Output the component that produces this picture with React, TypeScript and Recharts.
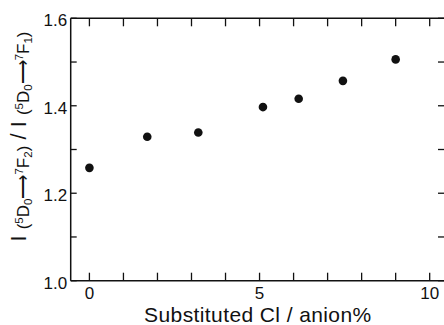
import { ScatterChart, Scatter, XAxis, YAxis } from 'recharts';

// Substituted Cl (anion %) vs. intensity ratio
const clPercent = [0, 1.7, 3.2, 5.1, 6.15, 7.45, 9.0];
const ratio = [1.258, 1.329, 1.339, 1.397, 1.416, 1.457, 1.506];

const xTicks = [0, 1, 2, 3, 4, 5, 6, 7, 8, 9, 10];
const xLabelled = [0, 5, 10];
const yTicks = [1.0, 1.1, 1.2, 1.3, 1.4, 1.5, 1.6];
const yLabelled = [1.0, 1.2, 1.4, 1.6];

const X_DOMAIN: [number, number] = [-0.55, 10.45];
const Y_DOMAIN: [number, number] = [1.0, 1.6];

const data = clPercent.map((x, i) => ({ x, y: ratio[i] }));

const FONT = '"Liberation Sans", Arial, Helvetica, sans-serif';
const INK = '#111';
const TICK = 8;

// layout
const W = 447;
const H = 325;
const TOP = 18.3;
const BOTTOM = 14;
const LEFT_W = 70.7;
const RIGHT_W = 2;
const XAXIS_H = 30.3;
const PLOT_W = W - LEFT_W - RIGHT_W;
const PLOT_H = H - TOP - BOTTOM - XAXIS_H;

// bottom tick + its twin on the top border
function BottomTick({ x, y, payload }: any) {
  const v = payload.value;
  const top = y - PLOT_H;
  return (
    <g>
      <line x1={x} y1={y} x2={x} y2={y - TICK} stroke={INK} strokeWidth={1.3} />
      <line x1={x} y1={top} x2={x} y2={top + TICK} stroke={INK} strokeWidth={1.3} />
      {xLabelled.includes(v) && (
        <text x={x} y={y + 18} textAnchor="middle" fontSize={17} fontFamily={FONT} fill={INK}>
          {v}
        </text>
      )}
    </g>
  );
}

function LeftTick({ x, y, payload }: any) {
  const v = payload.value;
  const show = yLabelled.some((t) => Math.abs(t - v) < 1e-6);
  const isTop = Math.abs(v - Y_DOMAIN[1]) < 1e-6;
  return (
    <g>
      {isTop && <line x1={x} y1={y} x2={x + PLOT_W} y2={y} stroke={INK} strokeWidth={1.5} />}
      <line x1={x} y1={y} x2={x + 6} y2={y} stroke={INK} strokeWidth={1.3} />
      {show && (
        <text x={x - 3.5} y={y + 8} textAnchor="end" fontSize={17} fontFamily={FONT} fill={INK}>
          {v.toFixed(1)}
        </text>
      )}
    </g>
  );
}

function RightTick({ x, y }: any) {
  return <line x1={x} y1={y} x2={x - 7} y2={y} stroke={INK} strokeWidth={1.3} />;
}

function XTitle({ viewBox }: any) {
  const cx = viewBox.x + viewBox.width / 2;
  return (
    <text
      x={cx}
      y={viewBox.y + 41}
      textAnchor="middle"
      fontSize={21}
      letterSpacing={0.4}
      fontFamily={FONT}
      fill={INK}
    >
      Substituted Cl / anion%
    </text>
  );
}

function YTitle({ viewBox }: any) {
  const cx = viewBox.x + 26;
  const cy = viewBox.y + viewBox.height / 2 - 13;
  const big = 22;
  const mid = 17;
  const sm = 11.5;
  const part = (n: string) => [
    <tspan key={n + 'a'} fontSize={mid} dy={3}>(</tspan>,
    <tspan key={n + 'b'} fontSize={sm} dy={-6}>5</tspan>,
    <tspan key={n + 'c'} fontSize={mid} dy={6}>D</tspan>,
    <tspan key={n + 'd'} fontSize={sm} dy={3}>0</tspan>,
    <tspan key={n + 'e'} fontSize={mid} dy={-3}>⟶</tspan>,
    <tspan key={n + 'f'} fontSize={sm} dy={-6}>7</tspan>,
    <tspan key={n + 'g'} fontSize={mid} dy={6}>F</tspan>,
    <tspan key={n + 'h'} fontSize={sm} dy={3}>{n}</tspan>,
    <tspan key={n + 'i'} fontSize={mid} dy={-3}>)</tspan>,
  ];
  return (
    <text
      x={cx}
      y={cy}
      transform={`rotate(-90 ${cx} ${cy})`}
      textAnchor="middle"
      fontFamily={FONT}
      fill={INK}
      fontSize={big}
    >
      <tspan fontSize={big}>I </tspan>
      {part('2')}
      <tspan fontSize={big} dy={-3}> / I </tspan>
      {part('1')}
    </text>
  );
}

export default function App() {
  return (
    <div
      style={{
        position: 'absolute',
        left: 0,
        top: 0,
        width: 444,
        height: H,
        overflow: 'hidden',
        background: '#fff',
      }}
    >
      <ScatterChart width={W} height={H} margin={{ top: TOP, right: 0, bottom: BOTTOM, left: 0 }}>
        <XAxis
          type="number"
          dataKey="x"
          domain={X_DOMAIN}
          ticks={xTicks}
          allowDataOverflow
          height={XAXIS_H}
          tickSize={0}
          tickMargin={0}
          tick={<BottomTick />}
          axisLine={{ stroke: INK, strokeWidth: 1.5 }}
          label={<XTitle />}
        />
        <YAxis
          yAxisId="l"
          type="number"
          dataKey="y"
          domain={Y_DOMAIN}
          ticks={yTicks}
          allowDataOverflow
          width={LEFT_W}
          tickSize={0}
          tickMargin={0}
          tick={<LeftTick />}
          axisLine={{ stroke: INK, strokeWidth: 1.5 }}
          label={<YTitle />}
        />
        <YAxis
          yAxisId="r"
          orientation="right"
          type="number"
          dataKey="y"
          domain={Y_DOMAIN}
          ticks={yTicks}
          allowDataOverflow
          width={RIGHT_W}
          tickSize={0}
          tickMargin={0}
          tick={<RightTick />}
          axisLine={{ stroke: INK, strokeWidth: 1.5 }}
        />
        <Scatter
          data={data}
          yAxisId="l"
          fill={INK}
          isAnimationActive={false}
          shape={(p: any) => <circle cx={p.cx} cy={p.cy} r={4.3} fill={INK} />}
        />
      </ScatterChart>
    </div>
  );
}
